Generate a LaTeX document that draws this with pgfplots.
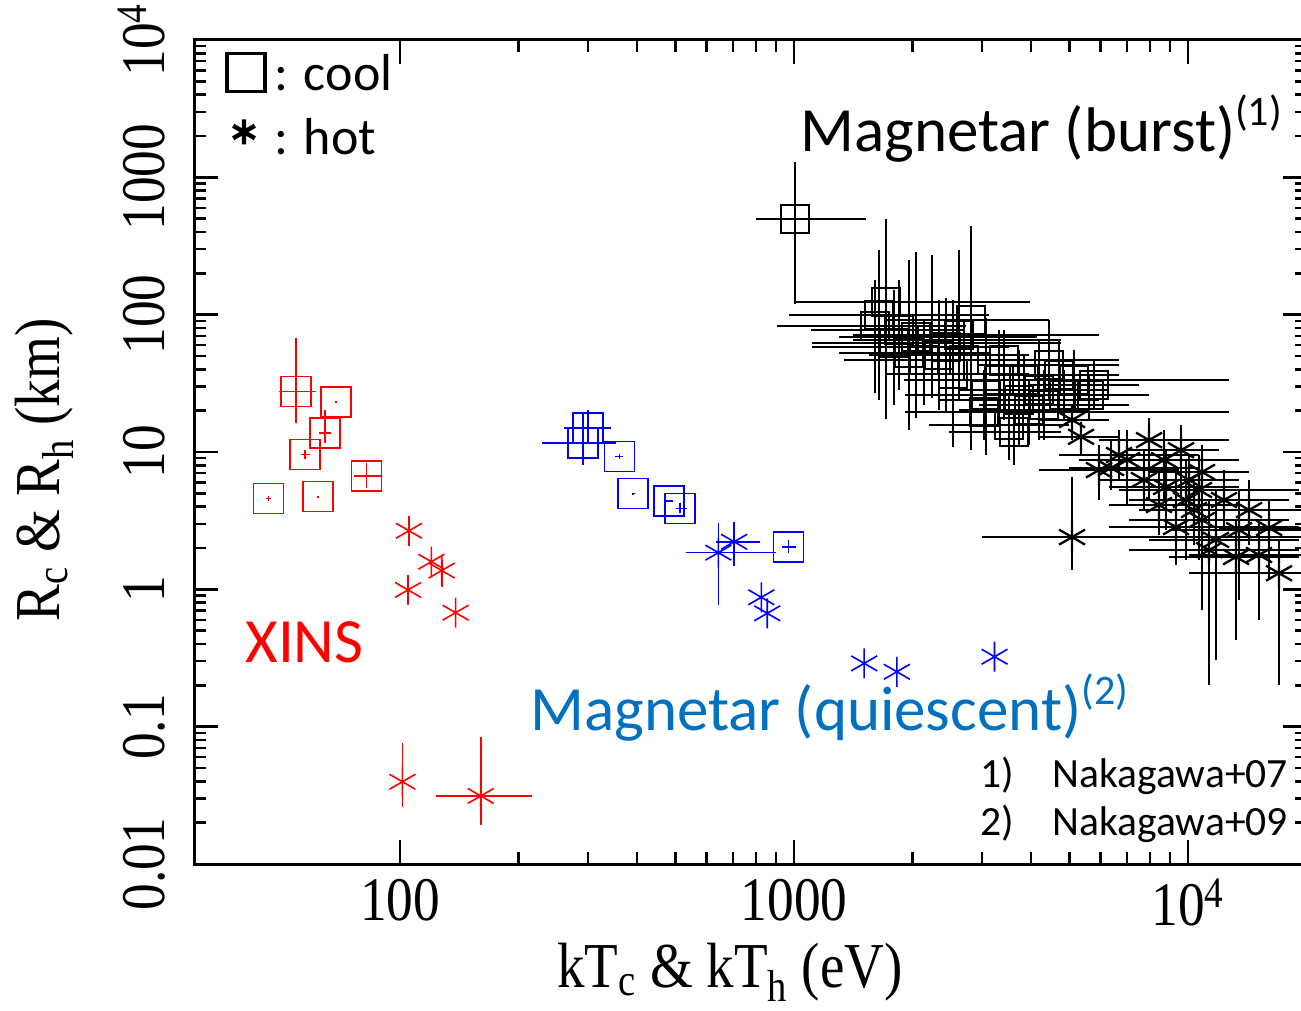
\documentclass[border=0pt]{standalone}
\usepackage{pgfplots}
\pgfplotsset{compat=1.18}
\usepackage{pgfplotstable}
\usepackage{fontspec}
\setmainfont{Liberation Serif}
\newfontfamily\timesc[FakeStretch=0.86]{Liberation Serif}
\newfontfamily\calib{Carlito}
\definecolor{qblue}{RGB}{0,112,192}

\pgfplotstableread{
x y xlo xhi ylo yhi
54.4 27.5 49.3 61.2 16.3 67.6
68.7 23.2 68.4 69.0 23.0 23.4
64.5 13.7 62.3 66.7 11.6 20.2
57.4 9.62 56.0 59.0 8.85 10.3
46.4 4.60 45.7 47.1 4.40 4.80
61.9 4.73 61.6 62.2 4.68 4.78
82.3 6.69 76.4 89.3 5.47 8.31
}\redcool
\pgfplotstableread{
x y xlo xhi ylo yhi
105.4 2.67 105.4 105.4 2.67 2.67
120.1 1.59 120.1 120.1 1.42 2.04
127.6 1.37 127.6 127.6 1.04 1.64
104.8 0.99 104.8 104.8 0.99 0.99
138.4 0.676 138.4 138.4 0.676 0.676
101.4 0.0397 101.4 101.4 0.0262 0.0757
160.3 0.0313 123.2 216.6 0.0192 0.0845
}\redhot
\pgfplotstableread{
x y xlo xhi ylo yhi
300 14.96 260.6 343 11.6 20.2
291 11.6 229.6 352.5 8.04 19.7
360.6 9.30 352 369 8.9 9.7
390.9 4.97 388 394 4.9 5.05
481.9 4.40 470 493 4.3 4.5
513.6 3.89 501 535.6 3.57 4.23
967.4 2.04 931 1009 1.83 2.27
}\bluecool
\pgfplotstableread{
x y xlo xhi ylo yhi
642.7 1.85 531 899 0.769 3.03
704.7 2.22 632 818 1.48 3.11
826 0.875 826 826 0.687 1.12
855 0.669 855 855 0.669 0.669
1507 0.289 1507 1507 0.289 0.289
1824 0.251 1824 1824 0.251 0.251
3228 0.323 3228 3228 0.323 0.323
}\bluehot
\pgfplotstableread{
x y xlo xhi ylo yhi
1006 497 801 1523 120 1293
1712 124 1006 3972 17.4 497
1605 82.7 906 2733 26.9 179
1794 62.2 1111 4762 22.0 151
2040 68.8 1301 4139 17.7 286
2240 65.4 1411 4762 24.7 272
2432 58.2 1111 3513 19.2 132
1959 52.6 1301 3126 14.5 250
2814 91.5 1712 4439 10.3 442
2533 37.0 1702 3949 10.9 128
3072 26.0 1913 5944 9.51 94.6
3313 33.4 2077 5290 17.1 77.3
3725 23.9 2334 5944 11.2 55.3
4187 28.3 2624 6302 12.2 65.4
4706 36.4 3126 6683 20.2 65.4
5137 33.4 3313 7085 20.2 55.3
5773 30.7 3949 7507 20.2 46.8
3513 15.7 2201 4989 8.74 26.0
3617 14.0 2475 4762 8.04 20.2
3036 19.6 1913 12708 12.2 39.5
4439 43.0 2949 6683 23.9 91.5
3949 20.2 2624 5607 11.2 33.4
2702 46.8 1550 4187 33.4 91.5
2138 46.8 1339 3126 22.0 91.5
1848 77.3 1104 2702 28.3 179
4846 26.0 3313 7507 17.1 39.5
5607 26.0 4187 7962 17.1 36.4
2334 50.9 1550 3949 20.2 128
2624 71.1 1411 5944 23.9 296
3412 46.8 1848 6683 17.1 77.3
4311 22.0 2949 7085 12.2 39.5
1643 99.4 971 3126 23.9 296
3836 33.4 1902 12708 18.6 50.9
}\blackcool
\pgfplotstableread{
x y xlo xhi ylo yhi
5352 12.9 4187 6683 9.51 15.7
5078 2.40 3000 21501 1.38 6.57
7962 12.2 5944 12708 4.47 17.7
7002 8.74 5290 10663 4.11 14.5
6376 7.65 4989 10663 5.29 12.2
9599 10.3 7085 11986 4.47 15.7
10852 7.15 7962 14286 3.20 11.2
8797 5.56 6302 13477 2.70 10.3
9884 4.47 7085 15142 1.64 8.74
9322 2.84 6302 19127 1.50 7.39
10852 3.20 7085 18045 0.707 7.39
11777 2.29 7962 19127 0.306 5.29
13243 1.72 8953 19127 0.428 3.20
16058 2.80 11986 21501 1.17 4.47
17022 1.31 10059 21501 0.201 2.29
11305 1.93 7085 19127 0.201 4.47
10356 3.78 7507 16058 2.10 6.25
8441 4.11 6302 13477 2.49 7.39
7729 6.25 5944 10663 3.78 10.3
12342 4.47 8953 18045 2.70 7.39
5078 17.1 4187 6302 12.2 22.0
14286 3.78 10663 20280 2.10 6.25
10059 6.25 7962 13477 3.78 9.51
5944 7.39 4187 9489 4.47 11.2
6683 9.51 4706 10663 6.25 14.5
10663 5.29 6683 19127 1.64 9.51
13477 2.70 8953 20280 0.836 5.29
8690 8.74 5944 13477 4.47 14.5
15142 1.78 10059 21501 0.598 3.20
}\blackhot

\pgfplotsset{
  /pgfplots/table/errtab/.style={x=x, y=y,
    x error plus expr=\thisrow{xhi}-\thisrow{x},
    x error minus expr=\thisrow{x}-\thisrow{xlo},
    y error plus expr=\thisrow{yhi}-\thisrow{y},
    y error minus expr=\thisrow{y}-\thisrow{ylo}},
  errs/.style={error bars/.cd, x dir=both, x explicit, y dir=both, y explicit,
    error mark=none, error bar style={line width=#1}},
}

\begin{document}
\begin{tikzpicture}
\useasboundingbox (-97pt,-73.5pt) rectangle (553.5pt,432pt);
\begin{axis}[
  at={(0pt,0pt)}, anchor=south west,
  scale only axis, width=556.3pt, height=412pt,
  xmode=log, ymode=log,
  xmin=30, xmax=20000, ymin=0.01, ymax=10000,
  axis line style={line width=1.5pt},
  tick style={line width=1.2pt, black},
  major tick length=12pt, minor tick length=6pt,
  tick align=inside,
  xtick={100,1000,10000},
  xticklabels={100,1000,10\textsuperscript{4}},
  ytick={0.01,0.1,1,10,100,1000,10000},
  yticklabels={0.01,0.1,1,10,100,1000,10\textsuperscript{4}},
  xticklabel style={font=\timesc\fontsize{31}{31}\selectfont, yshift=-4pt},
  yticklabel style={font=\timesc\fontsize{31}{31}\selectfont, xshift=-11pt, rotate=90, anchor=south},
]
\addplot[only marks, black, mark=square, mark size=7pt, line width=1.15pt, errs=1.15pt] table[errtab] {\blackcool};
\addplot[only marks, black, mark=asterisk, mark size=7.5pt, line width=1.15pt, errs=1.15pt] table[errtab] {\blackhot};
\addplot[only marks, red, mark=square, mark size=7.5pt, line width=0.8pt, errs=0.8pt] table[errtab] {\redcool};
\addplot[only marks, red, mark=asterisk, mark size=7.5pt, line width=0.8pt, errs=0.8pt] table[errtab] {\redhot};
\addplot[only marks, blue, mark=square, mark size=7.5pt, line width=0.8pt, errs=0.8pt] table[errtab] {\bluecool};
\addplot[only marks, blue, mark=asterisk, mark size=7.5pt, line width=0.8pt, errs=0.8pt] table[errtab] {\bluehot};
\end{axis}
\begin{scope}[x=0.5pt, y=0.5pt]
  % axis labels
  \node[anchor=base, font=\timesc\fontsize{32}{32}\selectfont, inner sep=0pt] at (536,-124)
    {kT\textsubscript{c} \& kT\textsubscript{h} (eV)};
  \node[anchor=base, rotate=90, font=\timesc\fontsize{32}{32}\selectfont, inner sep=0pt] at (-134,394)
    {R\textsubscript{c} \& R\textsubscript{h} (km)};
  % legend
  \draw[line width=1.6pt] (33,772.5) rectangle (71,810.5);
  \node[anchor=base west, inner sep=0pt, font=\calib\fontsize{26}{26}\selectfont] at (80,773.3) {: cool};
  \draw[line width=2.2pt] (50,719.5) -- (50,744.5)
        (39.2,725.75) -- (60.8,738.25)
        (39.2,738.25) -- (60.8,725.75);
  \node[anchor=base west, inner sep=0pt, font=\calib\fontsize{26}{26}\selectfont] at (80,709) {: hot};
  % annotations
  \node[anchor=base west, inner sep=0pt, font=\calib\fontsize{31.5}{31.5}\selectfont] at (606,712)
    {Magnetar (burst)\raisebox{0.42em}{\fontsize{21}{21}\selectfont(1)}};
  \node[anchor=base west, inner sep=0pt, text=red, font=\calib\fontsize{31.5}{31.5}\selectfont] at (51,201) {XINS};
  \node[anchor=base west, inner sep=0pt, text=qblue, font=\calib\fontsize{31.5}{31.5}\selectfont] at (336,133)
    {Magnetar (quiescent)\raisebox{0.42em}{\fontsize{21}{21}\selectfont(2)}};
  \node[anchor=base west, inner sep=0pt, font=\calib\fontsize{20.8}{20.8}\selectfont] at (786,76) {1)};
  \node[anchor=base west, inner sep=0pt, font=\calib\fontsize{20.8}{20.8}\selectfont] at (858,76) {Nakagawa+07};
  \node[anchor=base west, inner sep=0pt, font=\calib\fontsize{20.8}{20.8}\selectfont] at (786,28) {2)};
  \node[anchor=base west, inner sep=0pt, font=\calib\fontsize{20.8}{20.8}\selectfont] at (858,28) {Nakagawa+09};
\end{scope}
\end{tikzpicture}
\end{document}
